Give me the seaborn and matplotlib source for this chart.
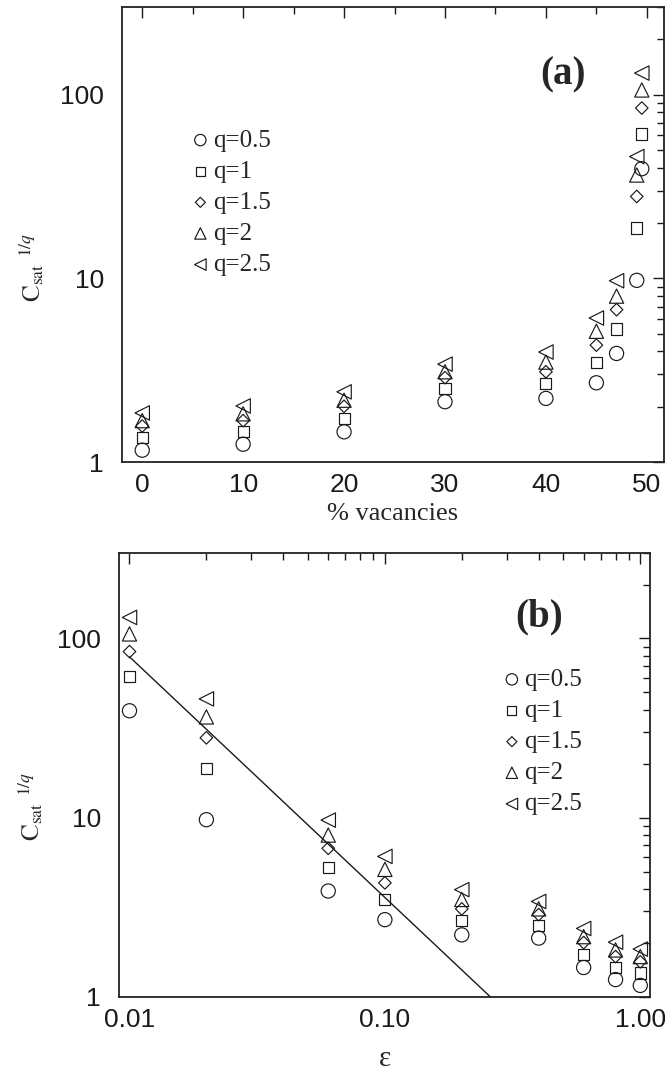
import numpy as np
import pandas as pd
import matplotlib
matplotlib.use("Agg")
import matplotlib.pyplot as plt
import seaborn as sns
from matplotlib.ticker import FixedLocator, FixedFormatter, NullFormatter, LogLocator, MultipleLocator

# ---------------- data ----------------
vacancies = [0, 10, 20, 30, 40, 45, 47, 49, 49.5]          # % vacancies
epsilon = [1.0, 0.8, 0.6, 0.4, 0.2, 0.1, 0.06, 0.02, 0.01]  # epsilon = 1 - 2p
q_labels = ["q=0.5", "q=1", "q=1.5", "q=2", "q=2.5"]
c_q05 = [1.16, 1.25, 1.46, 2.13, 2.22, 2.70, 3.9, 9.75, 39.5]
c_q1 = [1.36, 1.46, 1.73, 2.51, 2.68, 3.5, 5.3, 18.8, 61]
c_q15 = [1.57, 1.68, 2.01, 2.88, 3.1, 4.33, 6.75, 27.9, 84.5]
c_q2 = [1.68, 1.83, 2.17, 3.1, 3.5, 5.15, 8.0, 36.5, 106]
c_q25 = [1.85, 2.02, 2.41, 3.41, 3.97, 6.08, 9.7, 46, 131]
series = [c_q05, c_q1, c_q15, c_q2, c_q25]
# power-law guide line in (b)
fit_eps = [0.01, 0.259]
fit_c = [79.0, 1.0]

markers = ["o", "s", "D", "^", "<"]
sizes = [104, 64, 41, 105, 108]

sns.set_theme(style="white")
plt.rcParams["font.family"] = ["Liberation Sans", "DejaVu Sans"]
plt.rcParams["mathtext.fontset"] = "stix"

fig = plt.figure(figsize=(6.65, 10.72), dpi=100)
ax1 = fig.add_axes([0.1835, 0.569, 0.815, 0.4245])
ax2 = fig.add_axes([0.179, 0.070, 0.799, 0.4142])

serif = ["Liberation Serif", "DejaVu Serif"]

def draw(ax, xs):
    for lab, ys, m, s in zip(q_labels, series, markers, sizes):
        df = pd.DataFrame({"x": xs, "y": ys})
        sns.scatterplot(data=df, x="x", y="y", marker=m, s=s, color="k",
                        facecolor="none", edgecolor="k", linewidth=0.85,
                        ax=ax, label=lab, zorder=3)

def style(ax):
    for sp in ax.spines.values():
        sp.set_color("#222222")
        sp.set_linewidth(1.3)
        sp.set_visible(True)
    ax.tick_params(which="both", direction="in", top=True, right=True,
                   colors="k", labelsize=19, width=1.0)
    ax.tick_params(which="major", length=8, pad=8)
    ax.tick_params(axis="y", which="major", pad=13)
    ax.tick_params(which="minor", length=5)
    ax.set_yscale("log")
    ax.set_ylim(1, 300)
    ax.yaxis.set_major_locator(FixedLocator([1, 10, 100]))
    ax.yaxis.set_major_formatter(FixedFormatter(["1", "10", "100"]))
    ax.yaxis.set_minor_locator(LogLocator(base=10, subs=np.arange(2, 10)))
    ax.yaxis.set_minor_formatter(NullFormatter())
    ax.set_ylabel(r"$\mathrm{C}_{\mathrm{sat}}{}^{\;\;1/q}$", fontsize=18)
    ax.yaxis.set_label_coords(-0.14, 0.428)
    ax.grid(False)

def legend(ax, anchor):
    leg = ax.legend(loc="upper left", bbox_to_anchor=anchor, frameon=False,
                    prop={"family": serif, "size": 18}, markerscale=0.8,
                    handletextpad=0.1, labelspacing=0.345, borderpad=0,
                    handlelength=0.8)
    return leg

# ---- (a) ----
draw(ax1, vacancies)
style(ax1)
ax1.set_xlim(-2, 51.7)
ax1.xaxis.set_major_locator(MultipleLocator(10))
ax1.xaxis.set_minor_locator(MultipleLocator(5))
ax1.set_xlabel("% vacancies", family=serif, fontsize=19, labelpad=4)
legend(ax1, (0.103, 0.759))
ax1.text(0.813, 0.85, "(a)", transform=ax1.transAxes, family=serif,
         fontsize=28, fontweight="bold", ha="center", va="center")

# ---- (b) ----
draw(ax2, epsilon)
sns.lineplot(x=fit_eps, y=fit_c, ax=ax2, color="k", linewidth=1.0, zorder=2)
style(ax2)
ax2.set_xscale("log")
ax2.set_xlim(0.0091, 1.095)
ax2.xaxis.set_major_locator(FixedLocator([0.01, 0.1, 1.0]))
ax2.xaxis.set_major_formatter(FixedFormatter(["0.01", "0.10", "1.00"]))
ax2.xaxis.set_minor_locator(LogLocator(base=10, subs=np.arange(2, 10)))
ax2.xaxis.set_minor_formatter(NullFormatter())
ax2.set_xlabel("ε", family=serif, fontsize=21, labelpad=10)
legend(ax2, (0.697, 0.768))
ax2.text(0.79, 0.856, "(b)", transform=ax2.transAxes, family=serif,
         fontsize=28, fontweight="bold", ha="center", va="center")

fig.savefig("out.png", dpi=100, facecolor="white")
